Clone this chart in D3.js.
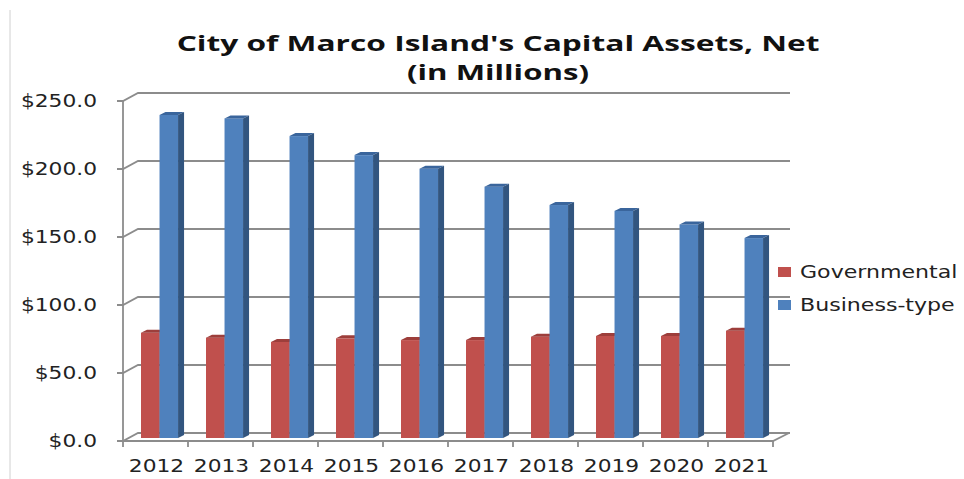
<!DOCTYPE html>
<html>
<head>
<meta charset="utf-8">
<script src="https://cdn.jsdelivr.net/npm/d3@7"></script>
<style>
  body { margin: 0; background: #fff; }
  text { font-family: "DejaVu Sans", Verdana, sans-serif; fill: #222; }
  .title { font-family: "Open Sans", Lato, sans-serif; font-weight: bold; fill: #111; }
</style>
</head>
<body>
<svg id="chart" width="964" height="479"></svg>
<script>
const years = ['2012', '2013', '2014', '2015', '2016', '2017', '2018', '2019', '2020', '2021'];
const governmental = [77.4, 73.8, 70.6, 73.3, 72.0, 72.0, 74.5, 75.0, 75.0, 78.9];
const businessType = [237.5, 235.0, 222.0, 208.0, 198.0, 184.8, 171.3, 167.0, 157.0, 147.0];
const seriesNames = ['Governmental', 'Business-type'];
const yTicks = [0, 50, 100, 150, 200, 250];

const colors = {
  Governmental: { front: '#c0504d', top: '#9d3e3b', side: '#8c3835' },
  'Business-type': { front: '#4f81bd', top: '#3a659c', side: '#32557f' }
};

const svg = d3.select('#chart');
const sx = 1.28; // source picture is stretched horizontally

// 3D offsets: back wall and bar depth
const wall = { dx: 15, dy: -8 };
const bar = { dx: 6, dy: -3, lift: -3 };

const x = d3.scaleBand().domain(years).range([123, 773]);
const inner = d3.scaleBand().domain(seriesNames)
  .range([x.bandwidth() * 0.277, x.bandwidth() * 0.847]);
const y = d3.scaleLinear().domain([0, 250]).range([441, 101]);

// chart border remnant
svg.append('line')
  .attr('x1', 10).attr('x2', 10).attr('y1', 10).attr('y2', 479)
  .attr('stroke', '#d0d0d0').attr('stroke-width', 1);

// title, stretched to the width it has in the picture
const titleLines = [
  { text: 'City of Marco Island\'s Capital Assets, Net', base: 51, width: 643 },
  { text: '(in Millions)', base: 80, width: 182 }
];
titleLines.forEach(l => {
  const t = svg.append('text')
    .attr('class', 'title')
    .attr('text-anchor', 'middle')
    .style('font-size', '21px')
    .text(l.text);
  const k = l.width / t.node().getComputedTextLength();
  t.attr('transform', `translate(498,${l.base}) scale(${k},1)`);
});

// gridlines on back wall
const grid = svg.append('g')
  .attr('fill', 'none').attr('stroke', '#8c8c8c').attr('stroke-width', 1.8);

yTicks.forEach(t => {
  const yy = y(t);
  grid.append('path')
    .attr('d', `M117,${yy}H123L${123 + wall.dx},${yy + wall.dy}H${773 + wall.dx + 2}`);
});

// front vertical axis
grid.append('line')
  .attr('x1', 123).attr('x2', 123).attr('y1', y(250)).attr('y2', y(0));

// floor front edge + ticks + right diagonal
grid.append('path')
  .attr('d', `M123,${y(0)}H773L${773 + wall.dx + 1},${y(0) + wall.dy}`);
const bounds = years.map(d => x(d)).concat([x.range()[1]]);
bounds.forEach(bx => {
  grid.append('line')
    .attr('x1', bx).attr('x2', bx).attr('y1', y(0)).attr('y2', y(0) + 6);
});

// y labels
svg.append('g').selectAll('text')
  .data(yTicks)
  .join('text')
    .attr('transform', d => `translate(97,${y(d) + 6}) scale(${sx},1)`)
    .attr('text-anchor', 'end')
    .style('font-size', '17px')
    .text(d => '$' + d.toFixed(1));

// x labels
svg.append('g').selectAll('text')
  .data(years)
  .join('text')
    .attr('transform', d => `translate(${x(d) + x.bandwidth() / 2 + 1},${y(0) + 31}) scale(${sx},1)`)
    .attr('text-anchor', 'middle')
    .style('font-size', '17px')
    .text(d => d);

// bars
const rows = years.map((yr, i) => ({ year: yr, values: [
  { key: 'Governmental', value: governmental[i] },
  { key: 'Business-type', value: businessType[i] }
] }));

const barsG = svg.append('g');
rows.forEach(row => {
  row.values.forEach(v => {
    const x0 = x(row.year) + inner(v.key);
    const w = inner.bandwidth();
    const yt = y(v.value) + bar.lift;
    const yb = y(0) + bar.lift;
    const c = colors[v.key];
    const g = barsG.append('g');
    g.append('rect')
      .attr('x', x0).attr('y', yt).attr('width', w).attr('height', yb - yt)
      .attr('fill', c.front);
    g.append('path')
      .attr('d', `M${x0},${yt}L${x0 + bar.dx},${yt + bar.dy}H${x0 + w + bar.dx}L${x0 + w},${yt}Z`)
      .attr('fill', c.top);
    g.append('path')
      .attr('d', `M${x0 + w},${yt}L${x0 + w + bar.dx},${yt + bar.dy}V${yb + bar.dy}L${x0 + w},${yb}Z`)
      .attr('fill', c.side);
  });
});

// legend
const legend = svg.append('g');
seriesNames.forEach((name, i) => {
  const ly = 267 + i * 33;
  legend.append('rect')
    .attr('x', 778).attr('y', ly).attr('width', 13).attr('height', 10)
    .attr('fill', colors[name].front);
  legend.append('text')
    .attr('transform', `translate(800,${ly + 11}) scale(1.3,1)`)
    .style('font-size', '17px')
    .text(name);
});
</script>
</body>
</html>
